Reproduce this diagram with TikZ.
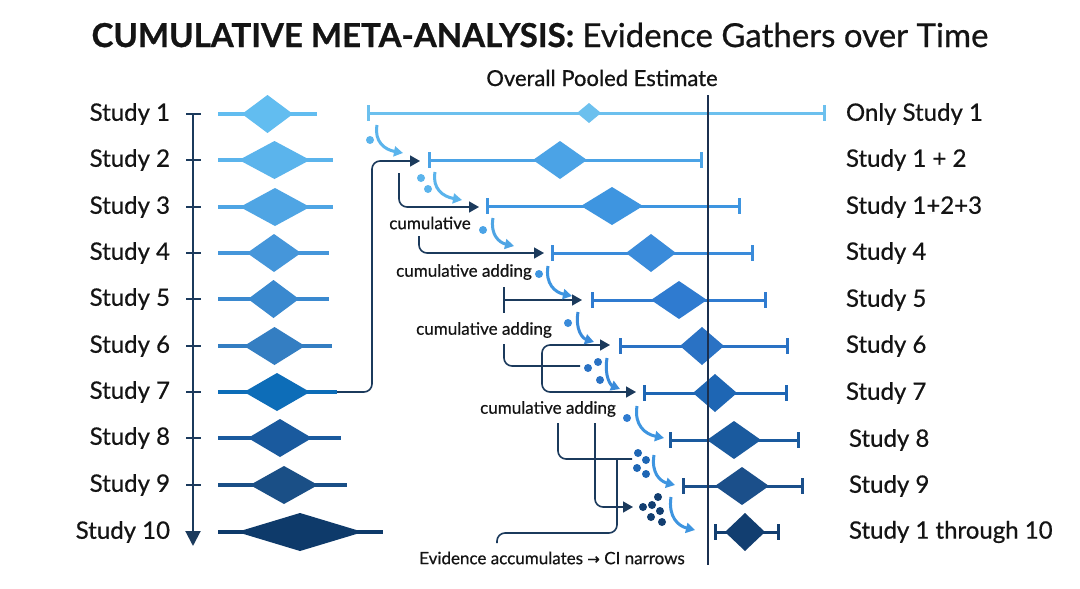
\documentclass[tikz,border=0pt]{standalone}
\usepackage{fontspec}
\setmainfont{Lato}
\newfontfamily\medfont{Lato}[FakeBold=0.6]
\newfontfamily\symfont{DejaVu Sans}[FakeBold=0.6]
\usetikzlibrary{arrows.meta}
\definecolor{ink}{HTML}{141414}
\definecolor{navy}{HTML}{1B3A5C}
\definecolor{refc}{HTML}{1B3050}
\definecolor{cA}{HTML}{62BDF0}
\definecolor{cB}{HTML}{5BB4EC}
\definecolor{cC}{HTML}{4FA5E4}
\definecolor{cD}{HTML}{4596DA}
\definecolor{cE}{HTML}{3A89CF}
\definecolor{cF}{HTML}{347EC2}
\definecolor{cG}{HTML}{0D6DB8}
\definecolor{cH}{HTML}{1A5A9E}
\definecolor{cI}{HTML}{1A4F86}
\definecolor{cJ}{HTML}{0E3A6A}
\definecolor{rA}{HTML}{6CC0EE}
\definecolor{rB}{HTML}{4BA3E6}
\definecolor{rC}{HTML}{3E95E0}
\definecolor{rD}{HTML}{3A8BDA}
\definecolor{rE}{HTML}{2F7BD0}
\definecolor{rF}{HTML}{2A72C4}
\definecolor{rG}{HTML}{1E66B4}
\definecolor{rH}{HTML}{1A5A9E}
\definecolor{rI}{HTML}{1B4F8A}
\definecolor{rJ}{HTML}{123E70}
\begin{document}
\begin{tikzpicture}[x=1pt,y=-1pt,
  every node/.style={inner sep=0pt,outer sep=0pt,text=ink},
  lab/.style={font=\medfont\fontsize{24}{26}\selectfont},
  small/.style={font=\medfont\fontsize{17}{19}\selectfont},
  navarrow/.style={draw=navy,line width=1.6pt,rounded corners=8pt,-{Triangle[length=10pt,width=11pt]}},
  navline/.style={draw=navy,line width=1.6pt,rounded corners=8pt},
  curvearr/.style={line width=3pt,-{Triangle[length=9pt,width=10pt]}}]
\useasboundingbox[fill=white] (0,0) rectangle (1080,589);

% title
\node[font=\fontsize{33}{35}\selectfont] (title) at (540,35) {\textbf{\addfontfeature{FakeBold=0.8}CUMULATIVE META-ANALYSIS:} {\medfont Evidence Gathers over Time}};
\node[font=\medfont\fontsize{22}{24}\selectfont] (pooled) at (602,78) {Overall Pooled Estimate};

% axis
\coordinate (axtop) at (193,113);
\coordinate (axbot) at (193,546);
\draw[navy,line width=2pt,-{Triangle[length=15pt,width=15pt]}] (axtop) -- (axbot);

% left column studies
\foreach \y/\le/\dl/\dr/\c [count=\i] in {
  114/317/242/293/cA, 160/333/239/310/cB, 207/333/240/310/cC,
  253/329/247/301/cD, 299/329/248/299/cE, 346/332/244/305/cF,
  392/337/244/310/cG, 438/341/248/312/cH, 485/347/250/318/cI,
  532/383/237/363/cJ}{
  \node[lab,anchor=east] (s\i) at (170,\y) {Study \i};
  \ifnum\i<10 \draw[navy,line width=2pt] (186,\y) -- (201,\y);\fi
  \coordinate (le\i) at (\le,\y);
  \draw[\c,line width=3.5pt] (218,\y) -- (le\i);
  \fill[\c] (\dl,\y) -- ({(\dl+\dr)/2},{\y-19}) -- (\dr,\y) -- ({(\dl+\dr)/2},{\y+19}) -- cycle;
}

% right cumulative forest
\foreach \y/\lc/\rc/\dc/\hw/\hh/\c [count=\i] in {
  113/368/824/589/12/10/rA, 160/429/701/560/27/19/rB, 206/487/739/612/31/19/rC,
  253/552/752/651/25/19/rD, 300/592/765/679/28/19/rE, 346/620/787/702/22/19/rF,
  393/644/786/715/22/19/rG, 440/670/798/734/27/19/rH, 486/683/802/742/27/19/rI,
  532/715/778/745/20/19/rJ}{
  \coordinate (lc\i) at (\lc,\y);
  \coordinate (rc\i) at (\rc,\y);
  \draw[\c,line width=3pt] (lc\i) -- (rc\i);
  \draw[\c,line width=3pt] (\lc,{\y-8}) -- (\lc,{\y+8});
  \draw[\c,line width=3pt] (\rc,{\y-8}) -- (\rc,{\y+8});
  \fill[\c] ({\dc-\hw},\y) -- (\dc,{\y-\hh}) -- ({\dc+\hw},\y) -- (\dc,{\y+\hh}) -- cycle;
}

% reference line
\coordinate (reftop) at (708,95);
\coordinate (refbot) at (708,565);
\draw[refc,line width=1.5pt] (reftop) -- (refbot);

% right labels
\node[lab,anchor=west] (t1) at (846,114) {Only Study 1};
\node[lab,anchor=west] (t2) at (846,160) {Study 1 + 2};
\node[lab,anchor=west] (t3) at (846,207) {Study 1+2+3};
\node[lab,anchor=west] (t4) at (846,253) {Study 4};
\node[lab,anchor=west] (t5) at (846,300) {Study 5};
\node[lab,anchor=west] (t6) at (846,346) {Study 6};
\node[lab,anchor=west] (t7) at (846,393) {Study 7};
\node[lab,anchor=west] (t8) at (849,440) {Study 8};
\node[lab,anchor=west] (t9) at (849,486) {Study 9};
\node[lab,anchor=west] (t10) at (849,532) {Study 1 through 10};

% middle labels
\node[small] (cum1) at (430,223) {cumulative};
\node[small] (cum2) at (464,272) {cumulative adding};
\node[small] (cum3) at (484,330) {cumulative adding};
\node[small] (cum4) at (548,409) {cumulative adding};
\node[small] (evid) at (552,558) {Evidence accumulates {\symfont\fontsize{15}{17}\selectfont →} CI narrows};

% dark navy connectors
\coordinate (a1) at (420,161);
\draw[navarrow] (le7) -- (372,392) -- (372,161) -- (a1);
\coordinate (a2) at (479,207);
\draw[navarrow] (399,173) -- (399,207) -- (a2);
\coordinate (a3) at (544,253);
\draw[navarrow] (419,236) -- (419,253) -- (a3);
\draw[navline] (504,287) -- (504,313);
\coordinate (a4) at (582,300);
\draw[navarrow] (504,300) -- (a4);
\draw[navline] (504,344) -- (504,366) -- (580,366);
\coordinate (a6a) at (610,345);
\coordinate (a6b) at (636,392);
\draw[navarrow,{Triangle[length=10pt,width=11pt]}-{Triangle[length=10pt,width=11pt]}] (a6a) -- (542,345) -- (542,392) -- (a6b);
\draw[navline] (558,423) -- (558,459) -- (632,459);
\coordinate (a8) at (633,507);
\draw[navarrow] (595,423) -- (595,507) -- (a8);
\draw[navline] (617,459) -- (617,533) -- (497,533) -- (497,543);

% light curved arrows with dots
\foreach \xa/\ya/\xb/\yb/\c in {
  377/125/403/153/cB, 435/172/462/200/cB, 493/218/514/246/cC,
  548/266/572/296/rC, 578/312/594/342/rD, 607/358/620/389/rD,
  637/406/664/438/rC, 654/455/675/485/rC, 671/497/695/530/rC}{
  \draw[curvearr,\c] (\xa,\ya) .. controls ({\xa-3},{\ya+0.6*(\yb-\ya)}) and ({\xa+0.3*(\xb-\xa)},{\yb-0.12*(\yb-\ya)}) .. (\xb,\yb);
}
\foreach \x/\y/\c in {370/140/cB, 421/178/cB, 428/189/cB, 483/230/rB, 539/274/rC,
  568/323/rD, 588/368/rF, 598/362/rF, 600/380/rF, 627/418/rE,
  638/453/rG, 646/460/rG, 637/468/rG, 646/474/rG,
  643/507/rJ, 652/505/rJ, 658/497/rJ, 660/511/rJ, 651/517/rJ, 662/522/rJ}{
  \fill[\c] (\x,\y) circle[radius=4pt];
}
\end{tikzpicture}
\end{document}
